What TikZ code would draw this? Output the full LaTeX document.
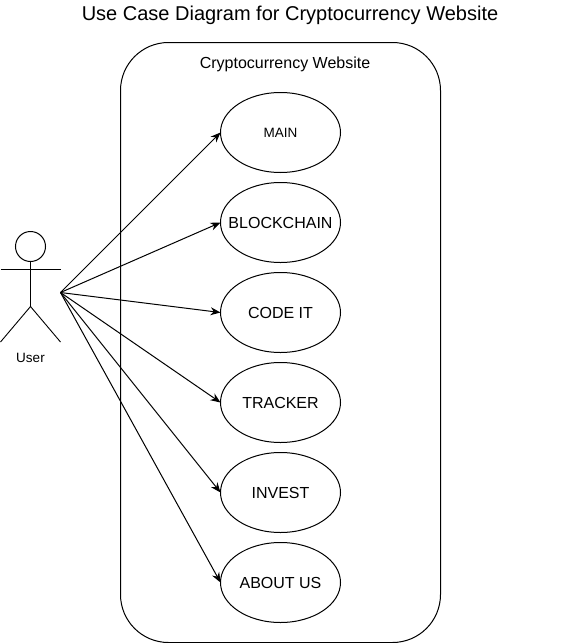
\documentclass[tikz,border=0pt]{standalone}
\usepackage{fontspec}
\setmainfont{Liberation Sans}
\usetikzlibrary{arrows.meta,positioning,shapes.geometric,calc}

\begin{document}
\begin{tikzpicture}[
        x=1pt,y=1pt,
        line width=1pt,
        >={Stealth[length=10pt,width=8pt]},
        node distance=10pt,
        usecase/.style={ellipse,draw,inner xsep=-10pt,inner ysep=0pt,outer sep=0pt,minimum width=120pt,minimum height=80pt,align=center,font=\fontsize{16}{19}\selectfont},
        system/.style={rectangle,draw,rounded corners=48pt,minimum width=320pt,minimum height=600pt},
        arrow/.style={->},
        limb/.style={line width=0.9pt}
    ]
        \useasboundingbox (0,0) rectangle (561,-643);

        \node[font=\fontsize{20}{24}\selectfont] (title) at (290,-15) {Use Case Diagram for Cryptocurrency Website};

        \node[system] (website) at (280.5,-342.5) {};
        \node[font=\fontsize{16}{19}\selectfont] (websitelabel) at (285,-64) {Cryptocurrency Website};

        \node[usecase,font=\fontsize{13.5}{16}\selectfont] (main) at (280.5,-132.5) {MAIN};
        \node[usecase,below=of main] (blockchain) {BLOCKCHAIN};
        \node[usecase,below=of blockchain] (codeit) {CODE IT};
        \node[usecase,below=of codeit] (tracker) {TRACKER};
        \node[usecase,below=of tracker] (invest) {INVEST};
        \node[usecase,below=of invest] (aboutus) {ABOUT US};

        % actor
        \node[circle,draw,inner sep=0pt,minimum size=30pt] (head) at (30.5,-246.5) {};
        \coordinate (hip) at (30.5,-306.5);
        \coordinate (armleft) at (0.5,-269);
        \coordinate (armright) at (60.5,-269);
        \coordinate (footleft) at (0.5,-342);
        \coordinate (footright) at (60.5,-342);
        \coordinate (actor) at (60.5,-292.5);
        \node[font=\fontsize{13.5}{16}\selectfont,below=7pt of hip |- footleft] (user) {User};

        \draw[limb] (head.south) -- (hip);
        \draw[limb] (armleft) -- (armright);
        \draw[limb] (footleft) -- (hip) -- (footright);

        \draw[arrow] (actor) -- (main.west);
        \draw[arrow] (actor) -- (blockchain.west);
        \draw[arrow] (actor) -- (codeit.west);
        \draw[arrow] (actor) -- (tracker.west);
        \draw[arrow] (actor) -- (invest.west);
        \draw[arrow] (actor) -- (aboutus.west);
    \end{tikzpicture}
\end{document}
